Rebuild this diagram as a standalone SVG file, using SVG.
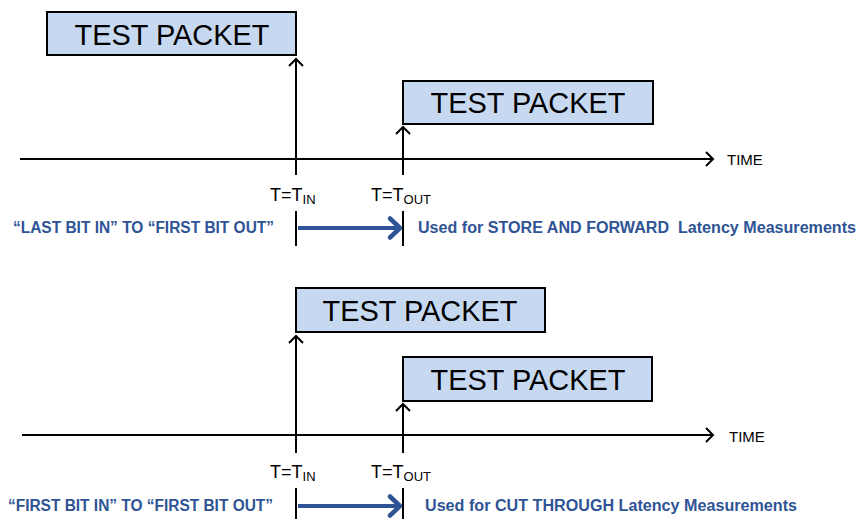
<svg xmlns="http://www.w3.org/2000/svg" width="858" height="519" viewBox="0 0 858 519">
<style>
.box{fill:#C6D9F1;stroke:#000;stroke-width:2}
.pk{font-family:"Liberation Sans",Arial,sans-serif;font-size:30px;fill:#000;text-anchor:middle}
.ln{stroke:#000;stroke-width:2;fill:none}
.lbl{font-family:"Liberation Sans",Arial,sans-serif;font-size:18px;fill:#000}
.sub{font-size:13px}
.tm{font-family:"Liberation Sans",Arial,sans-serif;font-size:15px;fill:#000}
.bl{font-family:"Liberation Sans",Arial,sans-serif;font-size:16px;font-weight:bold;fill:#2F5496}
.ba{stroke:#2F5496;stroke-width:4;fill:none}
</style>
<defs>
<marker id="chev" markerUnits="userSpaceOnUse" viewBox="-10 -10 20 20" markerWidth="20" markerHeight="20" refX="0" refY="0" orient="auto" overflow="visible">
<path d="M-7,-7 L0,0 L-7,7" fill="none" stroke="#000" stroke-width="2"/>
</marker>
<marker id="bchev" markerUnits="userSpaceOnUse" viewBox="-15 -15 30 30" markerWidth="30" markerHeight="30" refX="0" refY="0" orient="auto" overflow="visible">
<path d="M-11,-9.5 L-1,0 L-11,9.5" fill="none" stroke="#2F5496" stroke-width="4.5" stroke-linecap="round" stroke-linejoin="round"/>
</marker>
</defs>

<g id="connectors">
<line class="ln" x1="20" y1="159" x2="713" y2="159" marker-end="url(#chev)"/>
<line class="ln" x1="296" y1="175" x2="296" y2="59" marker-end="url(#chev)"/>
<line class="ln" x1="403" y1="175" x2="403" y2="127" marker-end="url(#chev)"/>
<line class="ln" x1="296" y1="211" x2="296" y2="246"/>
<line class="ln" x1="403" y1="211" x2="403" y2="246"/>
<line class="ba" x1="298" y1="228" x2="401" y2="228" marker-end="url(#bchev)"/>

<line class="ln" x1="22" y1="435" x2="713" y2="435" marker-end="url(#chev)"/>
<line class="ln" x1="296" y1="453" x2="296" y2="336" marker-end="url(#chev)"/>
<line class="ln" x1="403" y1="453" x2="403" y2="404" marker-end="url(#chev)"/>
<line class="ln" x1="296" y1="488" x2="296" y2="519"/>
<line class="ln" x1="403" y1="488" x2="403" y2="519"/>
<line class="ba" x1="298" y1="506" x2="401" y2="506" marker-end="url(#bchev)"/>
</g>

<g id="packet1"><rect class="box" x="47" y="12" width="249" height="43"/><text class="pk" x="172" y="45" textLength="195" lengthAdjust="spacingAndGlyphs">TEST PACKET</text></g>
<g id="packet2"><rect class="box" x="403" y="81" width="250" height="43"/><text class="pk" x="528" y="113" textLength="195" lengthAdjust="spacingAndGlyphs">TEST PACKET</text></g>
<g id="packet3"><rect class="box" x="296" y="288" width="249" height="44"/><text class="pk" x="420" y="321" textLength="195" lengthAdjust="spacingAndGlyphs">TEST PACKET</text></g>
<g id="packet4"><rect class="box" x="403" y="357" width="249" height="44"/><text class="pk" x="528" y="390" textLength="195" lengthAdjust="spacingAndGlyphs">TEST PACKET</text></g>

<g id="labels-top">
<text class="tm" x="727" y="165">TIME</text>
<text class="lbl" x="270" y="201">T=T<tspan class="sub" dy="2.5">IN</tspan></text>
<text class="lbl" x="371" y="201">T=T<tspan class="sub" dy="2.5">OUT</tspan></text>
<text class="bl" x="13" y="233" textLength="261" lengthAdjust="spacingAndGlyphs">“LAST BIT IN” TO “FIRST BIT OUT”</text>
<text class="bl" x="418" y="233" textLength="438" lengthAdjust="spacingAndGlyphs" xml:space="preserve">Used for STORE AND FORWARD  Latency Measurements</text>
</g>

<g id="labels-bottom">
<text class="tm" x="729" y="442">TIME</text>
<text class="lbl" x="270" y="478">T=T<tspan class="sub" dy="2.5">IN</tspan></text>
<text class="lbl" x="371" y="478">T=T<tspan class="sub" dy="2.5">OUT</tspan></text>
<text class="bl" x="8" y="511" textLength="265" lengthAdjust="spacingAndGlyphs">“FIRST BIT IN” TO “FIRST BIT OUT”</text>
<text class="bl" x="425" y="511" textLength="372" lengthAdjust="spacingAndGlyphs">Used for CUT THROUGH Latency Measurements</text>
</g>
</svg>
